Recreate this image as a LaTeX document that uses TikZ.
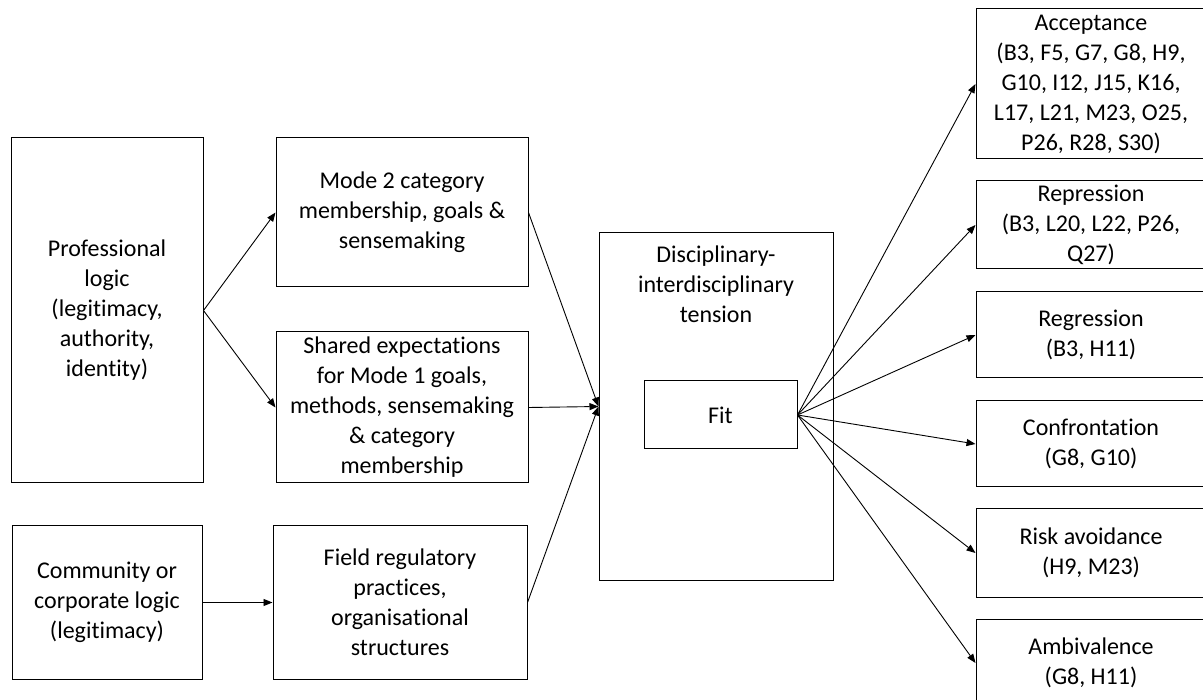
\documentclass[tikz,border=0pt]{standalone}
\usepackage{fontspec}
\setmainfont{Carlito}[Ligatures={NoCommon,NoRare,NoContextual},RawFeature={-liga;-clig;-dlig;-calt}]
\usetikzlibrary{arrows.meta}
\begin{document}
\begin{tikzpicture}[x=1pt,y=-1pt,
  box/.style={draw, line width=1pt, align=center, inner sep=0pt,
    font=\fontsize{24}{30}\selectfont},
  plain/.style={align=center, inner sep=0pt, font=\fontsize{24}{30}\selectfont},
  link/.style={line width=0.9pt, -{Triangle[length=9pt,width=7pt]}},
]
\useasboundingbox (0,0) rectangle (1203,700);

% sources
\node[box, minimum width=192pt, minimum height=345pt] (prof) at (107,310.5)
  {Professional\\logic\\(legitimacy,\\authority,\\identity)};
\node[box, minimum width=190pt, minimum height=153pt] (comm) at (107,602.5)
  {Community or\\corporate logic\\(legitimacy)};

% mechanisms
\node[box, minimum width=252pt, minimum height=149pt] (mode) at (402,212.5)
  {Mode 2 category\\membership, goals \&\\sensemaking};
\node[box, minimum width=252pt, minimum height=151pt] (shared) at (402,407.5)
  {Shared expectations\\for Mode 1 goals,\\methods, sensemaking\\\& category\\membership};
\node[box, minimum width=254pt, minimum height=153pt] (field) at (400,602.5)
  {Field regulatory\\practices,\\organisational\\structures};

% tension
\node[box, minimum width=234pt, minimum height=347pt] (disc) at (716,406.5) {};
\node[plain] (disctitle) at (716,284) {Disciplinary-\\interdisciplinary\\tension};
\node[box, minimum width=153pt, minimum height=68pt] (fit) at (720.5,415) {Fit};

% responses
\node[box, minimum width=230pt, minimum height=150pt] (acc) at (1091,84)
  {Acceptance\\(B3, F5, G7, G8, H9,\\G10, I12, J15, K16,\\L17, L21, M23, O25,\\P26, R28, S30)};
\node[box, minimum width=230pt, minimum height=88pt] (rep) at (1091,225)
  {Repression\\(B3, L20, L22, P26,\\Q27)};
\node[box, minimum width=230pt, minimum height=86pt] (reg) at (1091,335)
  {Regression\\(B3, H11)};
\node[box, minimum width=230pt, minimum height=86pt] (con) at (1091,444)
  {Confrontation\\(G8, G10)};
\node[box, minimum width=230pt, minimum height=88pt] (risk) at (1091,553)
  {Risk avoidance\\(H9, M23)};
\node[box, minimum width=230pt, minimum height=88pt] (amb) at (1091,663)
  {Ambivalence\\(G8, H11)};

% connectors
\draw[link] (prof.east) -- (mode.west);
\draw[link] (prof.east) -- (shared.west);
\draw[link] (comm.east) -- (field.west);
\draw[link] (mode.east) -- (disc.west);
\draw[link] (shared.east) -- (disc.west);
\draw[link] (field.east) -- (disc.west);
\foreach \t in {acc,rep,reg,con,risk,amb}
  \draw[link] (fit.east) -- (\t.west);
\end{tikzpicture}
\end{document}
